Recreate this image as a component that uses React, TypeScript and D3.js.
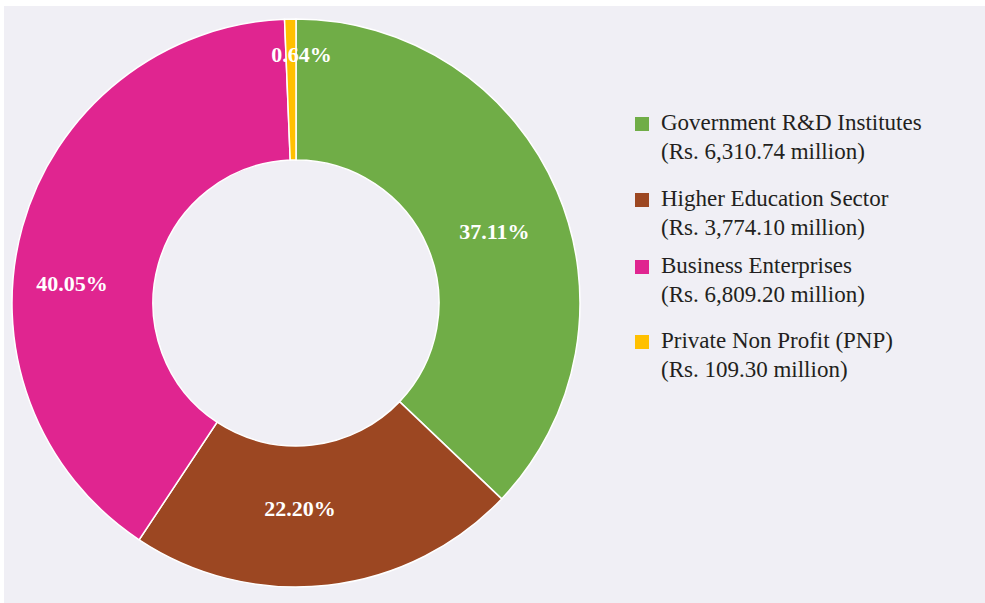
import * as d3 from "d3";
import { useEffect, useRef } from "react";

// R&D expenditure by sector
const sectors = [
    "Government R&D Institutes",
    "Higher Education Sector",
    "Business Enterprises",
    "Private Non Profit (PNP)",
];
const amounts = [6310.74, 3774.10, 6809.20, 109.30];
const amountLabels = [
    "(Rs. 6,310.74 million)",
    "(Rs. 3,774.10 million)",
    "(Rs. 6,809.20 million)",
    "(Rs. 109.30 million)",
];
const percentLabels = ["37.11%", "22.20%", "40.05%", "0.64%"];
const colors = ["#70ad47", "#9c4722", "#e02590", "#ffc000"];

// label placement (Excel-style best fit): radius and nudge of the angle in degrees
const labelRadius = [211, 205, 225, 249];
const labelNudge = [3.2, 5.3, -10.5, 2.4];

type Slice = { sector: string, amount: number, amountLabel: string, pct: string, color: string, i: number };

function App() {
    const ref = useRef<SVGSVGElement>(null);
    const width = 985;
    const height = 603;

    useEffect(() => {
        const svg = d3.select(ref.current);
        svg.selectAll("*").remove();

        const data: Slice[] = sectors.map((s, i) => ({
            sector: s, amount: amounts[i], amountLabel: amountLabels[i],
            pct: percentLabels[i], color: colors[i], i,
        }));

        // background panel
        svg.append("rect")
            .attr("x", 4).attr("y", 6)
            .attr("width", width - 4).attr("height", height - 6)
            .attr("fill", "#f0eff5");

        const cx = 296, cy = 303;
        const outerR = 284, innerR = 143;

        const pie = d3.pie<Slice>().value(d => d.amount).sort(null);
        const arc = d3.arc<d3.PieArcDatum<Slice>>().innerRadius(innerR).outerRadius(outerR);

        const g = svg.append("g").attr("transform", `translate(${cx},${cy})`);
        const arcs = pie(data);

        g.selectAll("path")
            .data(arcs)
            .join("path")
            .attr("d", arc)
            .attr("fill", d => d.data.color)
            .attr("stroke", "#ffffff")
            .attr("stroke-width", 1.5);

        g.selectAll("text")
            .data(arcs)
            .join("text")
            .attr("transform", d => {
                const a = (d.startAngle + d.endAngle) / 2 + labelNudge[d.data.i] * Math.PI / 180;
                const r = labelRadius[d.data.i];
                return `translate(${r * Math.sin(a)},${-r * Math.cos(a)})`;
            })
            .attr("text-anchor", "middle")
            .attr("dy", "0.35em")
            .attr("fill", "#ffffff")
            .style("font-family", "'Liberation Serif', serif")
            .style("font-weight", "bold")
            .style("font-size", "22px")
            .text(d => d.data.pct);

        // legend
        const legendTops = d3.scaleOrdinal<string, number>()
            .domain(sectors)
            .range([117, 193, 260, 335]);
        const items = svg.append("g").selectAll("g")
            .data(data)
            .join("g")
            .attr("transform", d => `translate(635,${legendTops(d.sector)})`);
        items.append("rect")
            .attr("width", 14).attr("height", 14)
            .attr("fill", d => d.color);
        const txt = items.append("text")
            .attr("y", 13)
            .attr("fill", "#231f20")
            .style("font-family", "'Liberation Serif', serif")
            .style("font-size", "23px");
        txt.append("tspan").attr("x", 26).text(d => d.sector);
        txt.append("tspan").attr("x", 26).attr("dy", 29).text(d => d.amountLabel);
    }, []);

    return (
        <div style={{ position: "absolute", left: 0, top: 0, background: "#ffffff" }}>
            <svg ref={ref} width={width} height={height} />
        </div>
    );
}

export default App;
